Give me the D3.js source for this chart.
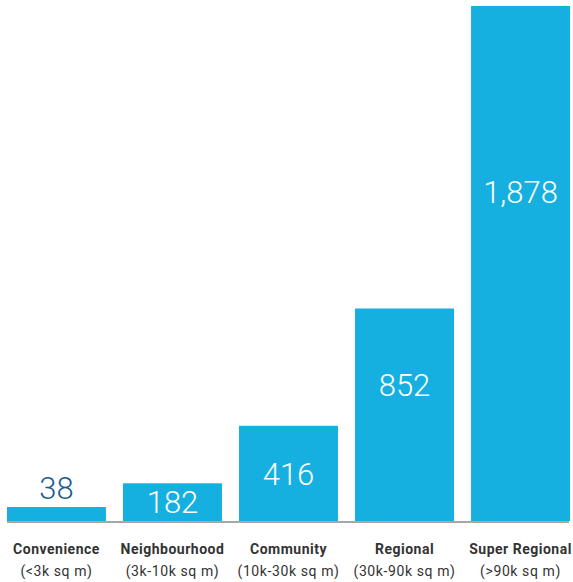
<!DOCTYPE html>
<html>
<head>
<meta charset="utf-8">
<script src="https://cdn.jsdelivr.net/npm/d3@7"></script>
<style>
  body { margin: 0; background: #fff; }
  svg { display: block; font-family: Roboto, "DejaVu Sans", sans-serif; }
</style>
</head>
<body>
<figure id="bar" style="margin:0"></figure>
<script>
// chart data
const categories = ["Convenience", "Neighbourhood", "Community", "Regional", "Super Regional"];
const subLabels = ["(<3k sq m)", "(3k-10k sq m)", "(10k-30k sq m)", "(30k-90k sq m)", "(>90k sq m)"];
const values = [38, 182, 416, 852, 1878];

const width = 573, height = 582;
const baseY = 521;

const svg = d3.select("figure#bar")
  .append("svg")
  .attr("width", width)
  .attr("height", height);

// x band scale
const x = d3.scaleBand()
  .domain(categories)
  .range([7, 570])
  .paddingInner(0.147)
  .paddingOuter(0);

// y scale (bars in the source are slightly non-linear)
const y = d3.scalePow()
  .exponent(1.12)
  .domain([0, d3.max(values)])
  .range([baseY, 6]);

const minH = 14;
const barTop = v => Math.min(y(v), baseY - minH);

const data = categories.map((c, i) => ({ cat: c, sub: subLabels[i], v: values[i] }));

// bars
svg.selectAll("rect.bar")
  .data(data)
  .enter()
  .append("rect")
  .attr("class", "bar")
  .attr("x", d => x(d.cat))
  .attr("y", d => barTop(d.v))
  .attr("width", x.bandwidth())
  .attr("height", d => baseY - barTop(d.v))
  .attr("fill", "#15b0e0");

// baseline
svg.append("line")
  .attr("x1", x.range()[0])
  .attr("x2", x.range()[1] - 1)
  .attr("y1", baseY + 1)
  .attr("y2", baseY + 1)
  .attr("stroke", "#a7a7a7")
  .attr("stroke-width", 2);

// value labels
const fmt = d3.format(",");
svg.selectAll("text.val")
  .data(data)
  .enter()
  .append("text")
  .attr("class", "val")
  .attr("x", d => x(d.cat) + x.bandwidth() / 2)
  .attr("y", d => {
    const top = barTop(d.v), h = baseY - top;
    if (h < 30) return top - 19;
    return top + (h > 150 ? h * 0.36 : h / 2);
  })
  .attr("dy", "0.36em")
  .attr("text-anchor", "middle")
  .attr("font-size", 31)
  .attr("font-weight", 300)
  .attr("fill", d => (baseY - barTop(d.v)) < 30 ? "#1c5d8c" : "#ffffff")
  .text(d => fmt(d.v));

// category labels
svg.selectAll("text.cat")
  .data(data)
  .enter()
  .append("text")
  .attr("class", "cat")
  .attr("x", d => x(d.cat) + x.bandwidth() / 2)
  .attr("y", 554)
  .attr("text-anchor", "middle")
  .attr("font-size", 14)
  .attr("font-weight", 700)
  .attr("letter-spacing", 0.5)
  .attr("fill", "#333")
  .text(d => d.cat);

svg.selectAll("text.sub")
  .data(data)
  .enter()
  .append("text")
  .attr("class", "sub")
  .attr("x", d => x(d.cat) + x.bandwidth() / 2)
  .attr("y", 576)
  .attr("text-anchor", "middle")
  .attr("font-size", 14)
  .attr("letter-spacing", 0.6)
  .attr("fill", "#333")
  .text(d => d.sub);
</script>
</body>
</html>
